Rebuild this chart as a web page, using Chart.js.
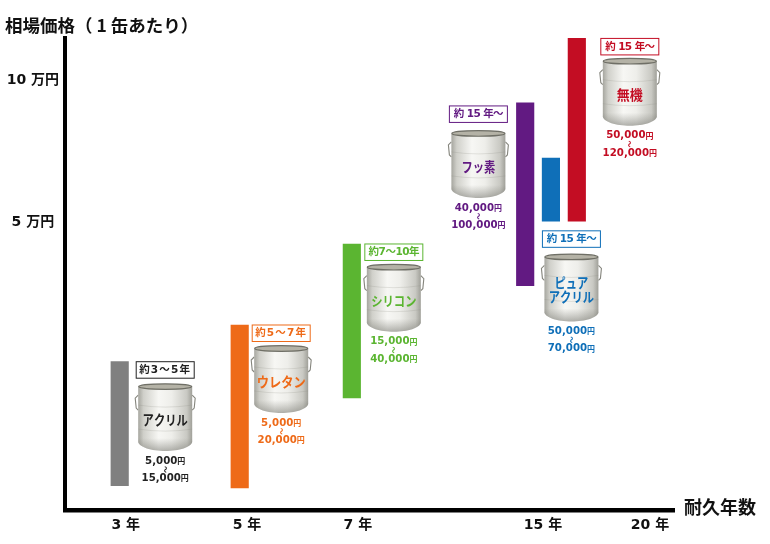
<!DOCTYPE html>
<html lang="ja">
<head>
<meta charset="utf-8">
<title>塗料の相場価格と耐久年数</title>
<script src="https://cdn.jsdelivr.net/npm/chart.js@4/dist/chart.umd.min.js"></script>
<style>
  html, body { margin: 0; padding: 0; background: #fff; }
  canvas { display: block; }
</style>
</head>
<body>
<canvas id="paintChart" width="770" height="544"></canvas>
<script>
// Chart data
const paintNames = ['アクリル', 'ウレタン', 'シリコン', 'フッ素', 'ピュア\nアクリル', '無機'];
const paintYears = [2.9, 4.88, 6.89, 14.23, 15.37, 16.58];
const barLows = [13790, 13640, 21170, 36620, 50200, 50200];
const barHighs = [25270, 30230, 44900, 89400, 68300, 122500];
const durationLabels = ['約3～5年', '約5～7年', '約7～10年', '約 15 年～', '約 15 年～', '約 15 年～'];
const priceLows = ['5,000', '5,000', '15,000', '40,000', '50,000', '50,000'];
const priceHighs = ['15,000', '20,000', '40,000', '100,000', '70,000', '120,000'];
const paintColors = ['#808080', '#ee6a18', '#5bb531', '#621a82', '#0f6fb8', '#c30d23'];
const yearTicks = [3, 5, 7, 15, 20];
const priceTicks = [50000, 100000];

const JP_FONT = '"Noto Sans CJK JP", sans-serif';
const MIXED_FONT = '"DejaVu Sans", "Noto Sans CJK JP", sans-serif';

// Where each callout sits next to its bar (center shift, box offset, can offset, label tracking)
const calloutLayout = [
  { dx: 45.5, from: 'top', boxY: 0, canY: 21.4, track: 1.2 },
  { dx: 41.5, from: 'top', boxY: 0, canY: 20, track: 1.2 },
  { dx: 42, from: 'top', boxY: 0, canY: 19.7, track: -0.5 },
  { dx: -46.8, from: 'top', boxY: 3, canY: 27, track: -0.6 },
  { dx: 20.5, from: 'bottom', boxY: 9.7, canY: 32.3, track: -0.6 },
  { dx: 53, from: 'top', boxY: 0, canY: 19.3, track: -0.6 }
];

// The year axis of the original is not evenly spaced
class YearScale extends Chart.LinearScale {
  getPixelForValue(value) {
    const years = [2, 3, 5, 7, 15, 20, 21.12];
    const stops = [0, 0.0998, 0.2988, 0.481, 0.7849, 0.9606, 1];
    let i = 0;
    while (i < years.length - 2 && value > years[i + 1]) i++;
    const t = (value - years[i]) / (years[i + 1] - years[i]);
    return this.getPixelForDecimal(stops[i] + t * (stops[i + 1] - stops[i]));
  }
}
YearScale.id = 'yearScale';
YearScale.defaults = {};
Chart.register(YearScale);

function canOutline(ctx, cx, left, right, topY, bottomY) {
  ctx.beginPath();
  ctx.moveTo(left, topY);
  ctx.lineTo(left, bottomY - 4);
  ctx.bezierCurveTo(left + 1, bottomY + 1, cx - 14, bottomY + 5, cx, bottomY + 5);
  ctx.bezierCurveTo(cx + 14, bottomY + 5, right - 1, bottomY + 1, right, bottomY - 4);
  ctx.lineTo(right, topY);
  ctx.closePath();
}

function drawCan(ctx, cx, top) {
  const w = 54, h = 68;
  const left = cx - w / 2, right = cx + w / 2;
  const rimY = top + 3.5, bottomY = top + h - 5;

  // wire handles
  ctx.strokeStyle = '#85857d';
  ctx.lineWidth = 1.1;
  [[left, -1], [right, 1]].forEach(([x, side]) => {
    ctx.beginPath();
    ctx.moveTo(x, top + 12);
    ctx.lineTo(x + side * 3, top + 15);
    ctx.lineTo(x + side * 2, top + 25);
    ctx.lineTo(x, top + 27);
    ctx.stroke();
  });

  // body
  const grad = ctx.createLinearGradient(left, 0, right, 0);
  grad.addColorStop(0, '#a6a69f');
  grad.addColorStop(0.1, '#d0d0ca');
  grad.addColorStop(0.38, '#f7f7f4');
  grad.addColorStop(0.62, '#eeeeea');
  grad.addColorStop(0.9, '#c9c9c3');
  grad.addColorStop(1, '#a0a099');
  ctx.fillStyle = grad;
  canOutline(ctx, cx, left, right, rimY, bottomY);
  ctx.fill();

  // darker foot of the can
  const foot = ctx.createLinearGradient(0, bottomY - 8, 0, bottomY + 5);
  foot.addColorStop(0, 'rgba(120,120,112,0)');
  foot.addColorStop(1, 'rgba(105,105,98,0.5)');
  ctx.fillStyle = foot;
  canOutline(ctx, cx, left, right, bottomY - 8, bottomY);
  ctx.fill();

  // seams
  ctx.strokeStyle = 'rgba(140,140,132,0.3)';
  ctx.lineWidth = 0.7;
  [top + 22, top + 46].forEach(y => {
    ctx.beginPath();
    ctx.moveTo(left, y);
    ctx.quadraticCurveTo(cx, y + 4, right, y);
    ctx.stroke();
  });

  // rim
  ctx.fillStyle = '#b4b2a6';
  ctx.strokeStyle = '#6f6f66';
  ctx.lineWidth = 1.2;
  ctx.beginPath();
  ctx.ellipse(cx, rimY, w / 2 - 0.5, 2.8, 0, 0, Math.PI * 2);
  ctx.fill();
  ctx.stroke();
}

function drawCallout(chart, i) {
  const ctx = chart.ctx;
  const bar = chart.getDatasetMeta(0).data[i].getProps(['x', 'y', 'base'], true);
  const spot = calloutLayout[i];
  const anchorY = spot.from === 'top' ? Math.min(bar.y, bar.base) : Math.max(bar.y, bar.base);
  const cx = bar.x + spot.dx;
  const color = i === 0 ? '#222222' : paintColors[i];
  const boxTop = anchorY + spot.boxY;
  const canTop = anchorY + spot.canY;

  // duration box
  ctx.save();
  ctx.fillStyle = '#fff';
  ctx.strokeStyle = color;
  ctx.lineWidth = 1;
  ctx.fillRect(cx - 29, boxTop, 58, 16.5);
  ctx.strokeRect(cx - 29, boxTop, 58, 16.5);
  ctx.fillStyle = color;
  ctx.textAlign = 'center';
  ctx.textBaseline = 'middle';
  ctx.font = 'bold 10.5px ' + MIXED_FONT;
  ctx.letterSpacing = spot.track + 'px';
  ctx.fillText(durationLabels[i], cx, boxTop + 8.7);
  ctx.letterSpacing = '0px';

  drawCan(ctx, cx, canTop);

  // paint name on the can, squeezed like the original lettering
  ctx.fillStyle = color;
  ctx.font = 'bold 13.5px ' + JP_FONT;
  const lines = paintNames[i].split('\n');
  const nameY = canTop + (lines.length > 1 ? 29.4 : 37);
  lines.forEach((line, n) => {
    let maxWidth = line.length === 2 ? 26 : line.length * 11.3;
    if (i === 1) maxWidth = 49;
    ctx.fillText(line, cx, nameY + n * 14.5, maxWidth);
  });

  // price range under the can
  const priceTop = canTop + 68 + 10;
  drawPrice(ctx, priceLows[i], cx, priceTop, color);
  ctx.save();
  ctx.translate(cx, priceTop + 8.3);
  ctx.rotate(Math.PI / 2);
  ctx.font = 'bold 7px ' + JP_FONT;
  ctx.fillText('～', 0, 0);
  ctx.restore();
  drawPrice(ctx, priceHighs[i], cx, priceTop + 17.3, color);
  ctx.restore();
}

function drawPrice(ctx, amount, cx, y, color) {
  const numFont = 'bold 10.2px ' + MIXED_FONT;
  const yenFont = 'bold 8px ' + JP_FONT;
  ctx.font = numFont;
  const numWidth = ctx.measureText(amount).width;
  ctx.font = yenFont;
  const yenWidth = ctx.measureText('円').width;
  const left = cx - (numWidth + yenWidth) / 2;
  ctx.fillStyle = color;
  ctx.textAlign = 'left';
  ctx.font = numFont;
  ctx.fillText(amount, left, y);
  ctx.font = yenFont;
  ctx.fillText('円', left + numWidth, y);
  ctx.textAlign = 'center';
}

const calloutPlugin = {
  id: 'callouts',
  afterDatasetsDraw(chart) {
    paintNames.forEach((name, i) => drawCallout(chart, i));

    const ctx = chart.ctx;
    ctx.save();
    ctx.fillStyle = '#111';
    ctx.textBaseline = 'middle';
    ctx.textAlign = 'left';
    ctx.font = 'bold 17.5px ' + JP_FONT;
    ctx.fillText('相場価格（ 1 缶あたり）', 5, 25);
    ctx.font = 'bold 18px ' + JP_FONT;
    ctx.fillText('耐久年数', 684, 507);
    ctx.restore();
  }
};

new Chart(document.getElementById('paintChart'), {
  type: 'bar',
  data: {
    datasets: [{
      data: paintYears.map((year, i) => ({ x: year, y: [barLows[i], barHighs[i]] })),
      backgroundColor: paintColors,
      barThickness: 17.5
    }]
  },
  options: {
    responsive: false,
    animation: false,
    layout: { padding: { top: 38, right: 96 } },
    plugins: {
      legend: { display: false },
      title: { display: false },
      tooltip: { enabled: false }
    },
    scales: {
      x: {
        type: 'yearScale',
        min: 2,
        max: 21.12,
        grid: { display: false, drawTicks: false },
        border: { color: '#000', width: 4.5 },
        afterBuildTicks: scale => { scale.ticks = yearTicks.map(value => ({ value })); },
        afterFit: scale => { scale.height = 34; },
        ticks: {
          autoSkip: false,
          maxRotation: 0,
          padding: 7,
          color: '#111',
          font: { family: MIXED_FONT, size: 14, weight: 'bold' },
          callback: value => value + ' 年'
        }
      },
      y: {
        type: 'logarithmic',
        min: 12250,
        max: 122750,
        grid: { display: false, drawTicks: false },
        border: { color: '#000', width: 4 },
        afterBuildTicks: scale => { scale.ticks = priceTicks.map(value => ({ value, major: true })); },
        afterFit: scale => { scale.width = 65; },
        ticks: {
          autoSkip: false,
          crossAlign: 'center',
          padding: 6,
          color: '#111',
          font: { family: MIXED_FONT, size: 14, weight: 'bold' },
          callback: value => (value / 10000) + ' 万円'
        }
      }
    }
  },
  plugins: [calloutPlugin]
});
</script>
</body>
</html>
